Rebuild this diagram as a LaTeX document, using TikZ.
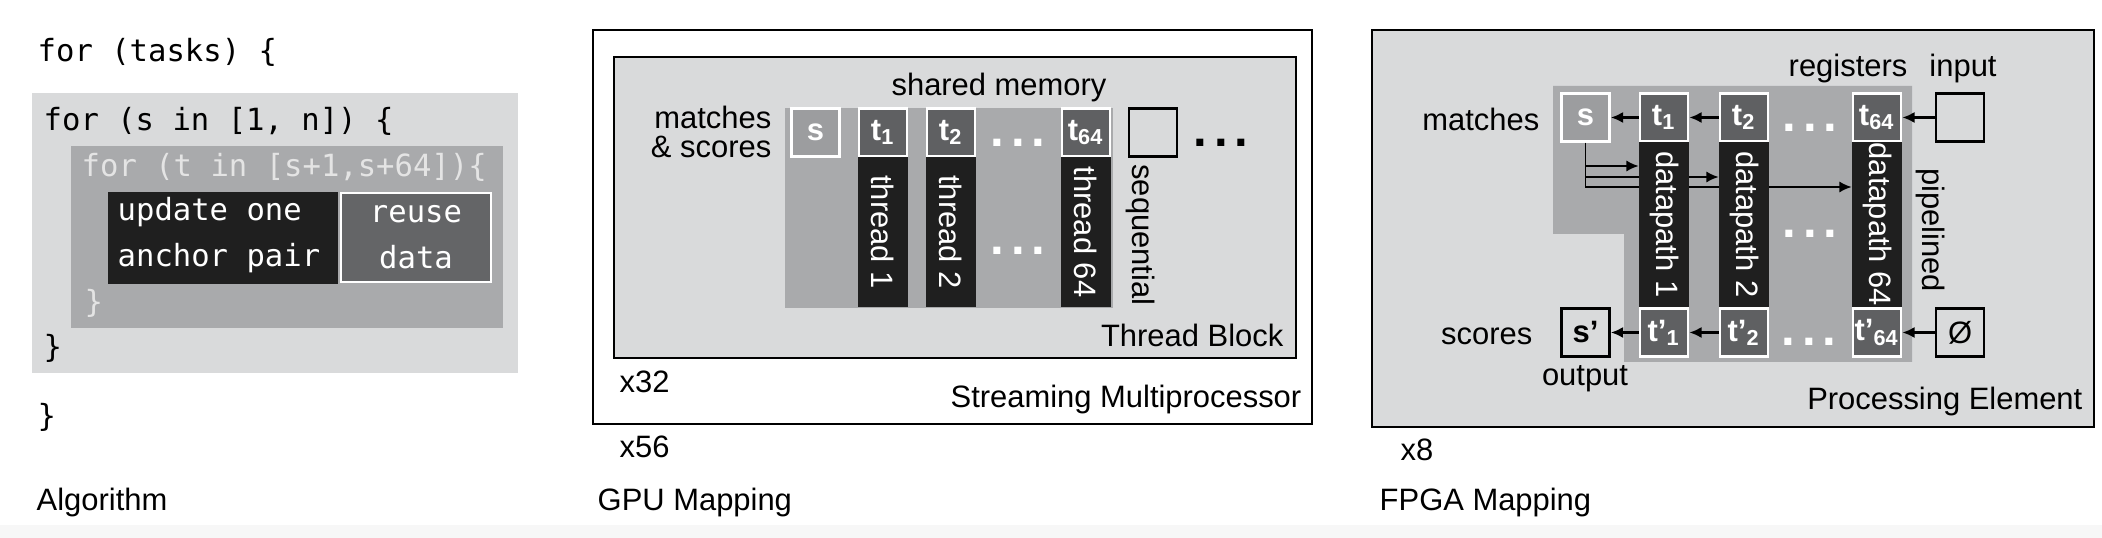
\documentclass[tikz,border=0pt]{standalone}
\usepackage{fontspec}
\setmainfont{Liberation Sans}
\setmonofont{DejaVu Sans Mono}
\usetikzlibrary{arrows.meta}

\definecolor{lg}{HTML}{D9DADB}
\definecolor{mg}{HTML}{A9AAAC}
\definecolor{sg}{HTML}{9C9D9F}
\definecolor{dg}{HTML}{5F6062}
\definecolor{rg}{HTML}{646567}
\definecolor{bk}{HTML}{1F1F1F}
\definecolor{cg}{HTML}{E4E4E4}

\newcommand{\lbl}{\fontsize{8.8}{8}\selectfont}
\newcommand{\cod}{\ttfamily\fontsize{8.7}{13}\selectfont}
\newcommand{\threedot}{.\hspace{0.07cm}.\hspace{0.07cm}.}

\begin{document}
\begin{tikzpicture}[
  panel/.style={draw=black, line width=0.8pt, inner sep=0},
  codeline/.style={font=\cod, anchor=west, inner sep=0},
  lbltext/.style={font=\lbl, inner sep=0},
  regbox/.style={draw=white, line width=0.8pt, minimum size=0.48cm, inner sep=0, font=\lbl\bfseries, text=white},
  outbox/.style={draw=black, line width=0.8pt, minimum size=0.48cm, inner sep=0, font=\lbl\bfseries},
  gcol/.style={fill=bk, text=white, rotate=-90, minimum width=1.50cm, minimum height=0.50cm, inner sep=0, font=\lbl},
  fcol/.style={gcol, minimum width=1.65cm},
  dotrow/.style={inner sep=0, font=\fontsize{14}{14}\selectfont\bfseries},
  arr/.style={-{Latex[length=3.5pt,width=3.2pt]}, line width=0.6pt}
]
\useasboundingbox (0,0) rectangle (21.02,-5.38);
\fill[black!3] (0,-5.25) rectangle (21.02,-5.38);

% algorithm
\node[fill=lg, minimum width=4.86cm, minimum height=2.80cm, inner sep=0] (loopS) at (2.75,-2.33) {};
\node[fill=mg, minimum width=4.32cm, minimum height=1.82cm, inner sep=0] (loopT) at (2.87,-2.37) {};
\node[fill=bk, minimum width=2.30cm, minimum height=0.92cm, inner sep=0] (upd) at (2.23,-2.38) {};
\node[codeline, text=white, align=left] (updt) at (1.17,-2.35) {update one\\anchor pair};
\node[fill=rg, draw=white, line width=0.8pt, text=white, font=\cod, align=center, minimum width=1.50cm, minimum height=0.89cm, inner sep=0] (reuse) at (4.16,-2.375) {reuse\\data};

\node[codeline] (c1) at (0.37,-0.52) {for (tasks) \{};
\node[codeline] (c2) at (0.43,-1.21) {for (s in [1, n]) \{};
\node[codeline, text=cg] (c3) at (0.81,-1.67) {for (t in [s+1,s+64])\{};
\node[codeline, text=cg] (c4) at (0.84,-3.03) {\}};
\node[codeline] (c5) at (0.43,-3.48) {\}};
\node[codeline] (c6) at (0.37,-4.17) {\}};
\node[lbltext, anchor=west] (alg) at (0.36,-5.03) {Algorithm};

% gpu
\node[panel, minimum width=7.19cm, minimum height=3.94cm] (sm) at (9.525,-2.27) {};
\node[panel, fill=lg, minimum width=6.82cm, minimum height=3.01cm] (tb) at (9.55,-2.075) {};
\node[fill=mg, minimum width=3.28cm, minimum height=2.00cm, inner sep=0] (gmem) at (9.49,-2.08) {};

\node[regbox, fill=sg] (gs) at (8.155,-1.325) {s};
\node[regbox, fill=dg] (gt1) at (8.83,-1.325) {t\textsubscript{1}};
\node[regbox, fill=dg] (gt2) at (9.51,-1.325) {t\textsubscript{2}};
\node[regbox, fill=dg] (gt64) at (10.86,-1.325) {t\textsubscript{64}};
\node[outbox] (gq) at (11.53,-1.325) {};

\node[gcol] (gc1) at (8.83,-2.32) {thread 1};
\node[gcol] (gc2) at (9.51,-2.32) {thread 2};
\node[gcol] (gc64) at (10.86,-2.32) {thread 64};

\node[dotrow, text=white] (gd1) at (10.18,-1.43) {\threedot};
\node[dotrow, text=white] (gd2) at (10.18,-2.51) {\threedot};
\node[dotrow] (gd3) at (12.21,-1.43) {\threedot};

\node[lbltext] (shm) at (9.99,-0.88) {shared memory};
\node[lbltext, align=right, anchor=east] (mas) at (7.72,-1.32) {matches\\\& scores};
\node[lbltext, rotate=-90] (seq) at (11.40,-2.35) {sequential};
\node[lbltext, anchor=east] (tbl) at (12.84,-3.35) {Thread Block};
\node[lbltext, anchor=west] (x32) at (6.19,-3.82) {x32};
\node[lbltext, anchor=east] (sml) at (13.02,-4.00) {Streaming Multiprocessor};
\node[lbltext, anchor=west] (x56) at (6.19,-4.47) {x56};
\node[lbltext, anchor=west] (gpu) at (5.97,-5.03) {GPU Mapping};

% fpga
\node[panel, fill=lg, minimum width=7.22cm, minimum height=3.97cm] (pe) at (17.33,-2.285) {};
\fill[mg] (15.53,-0.86) -- (19.12,-0.86) -- (19.12,-3.62) -- (16.24,-3.62) -- (16.24,-2.34) -- (15.53,-2.34) -- cycle;

\node[regbox, fill=sg] (fs) at (15.855,-1.175) {s};
\node[regbox, fill=dg] (ft1) at (16.64,-1.175) {t\textsubscript{1}};
\node[regbox, fill=dg] (ft2) at (17.44,-1.175) {t\textsubscript{2}};
\node[regbox, fill=dg] (ft64) at (18.77,-1.175) {t\textsubscript{64}};
\node[outbox] (fin) at (19.60,-1.175) {};

\draw[arr, line width=0.5pt] (fs.south) |- (ft1.west |- 0,-1.66);
\draw[arr, line width=0.5pt] (fs.south) |- (ft2.west |- 0,-1.77);
\draw[arr, line width=0.5pt] (fs.south) |- (ft64.west |- 0,-1.87);

\node[fcol] (fd1) at (16.64,-2.245) {datapath 1};
\node[fcol] (fd2) at (17.44,-2.245) {datapath 2};
\node[fcol] (fd64) at (18.77,-2.245) {datapath 64};

\node[outbox] (fsp) at (15.855,-3.325) {s’};
\node[regbox, fill=dg] (ftp1) at (16.64,-3.325) {t’\textsubscript{1}};
\node[regbox, fill=dg] (ftp2) at (17.44,-3.325) {t’\textsubscript{2}};
\node[regbox, fill=dg] (ftp64) at (18.77,-3.325) {t’\textsubscript{64}};
\node[outbox, font=\lbl] (fnull) at (19.60,-3.325) {Ø};

\node[dotrow, text=white] (fdt1) at (18.10,-1.28) {\threedot};
\node[dotrow, text=white] (fdt2) at (18.10,-2.34) {\threedot};
\node[dotrow, text=white] (fdt3) at (18.09,-3.42) {\threedot};

\draw[arr] (ft1) -- (fs);
\draw[arr] (ft2) -- (ft1);
\draw[arr] (fin) -- (ft64);
\draw[arr] (ftp1) -- (fsp);
\draw[arr] (ftp2) -- (ftp1);
\draw[arr] (fnull) -- (ftp64);

\node[lbltext] (regs) at (18.48,-0.69) {registers};
\node[lbltext] (inp) at (19.63,-0.69) {input};
\node[lbltext, anchor=east] (mat) at (15.40,-1.19) {matches};
\node[lbltext, anchor=east] (sco) at (15.33,-3.36) {scores};
\node[lbltext] (outp) at (15.85,-3.79) {output};
\node[lbltext, rotate=-90] (pip) at (19.30,-2.30) {pipelined};
\node[lbltext, anchor=east] (pel) at (20.83,-4.02) {Processing Element};
\node[lbltext, anchor=west] (x8) at (14.00,-4.50) {x8};
\node[lbltext, anchor=west] (fpga) at (13.79,-5.03) {FPGA Mapping};
\end{tikzpicture}
\end{document}
